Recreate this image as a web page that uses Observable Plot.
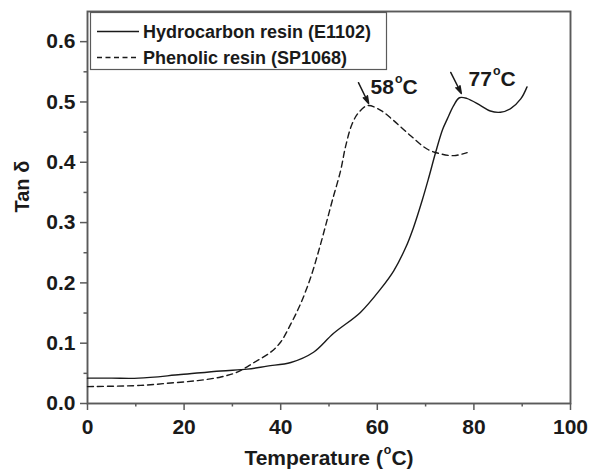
<!DOCTYPE html>
<html>
<head>
<meta charset="utf-8">
<script src="https://cdn.jsdelivr.net/npm/d3@7"></script>
<script src="https://cdn.jsdelivr.net/npm/@observablehq/plot@0.6"></script>
<style>
  body { margin: 0; background: #fff; }
  #chart svg { display: block; }
</style>
</head>
<body>
<div id="chart"></div>
<script>
// Series names (legend order)
const seriesNames = ["Hydrocarbon resin (E1102)", "Phenolic resin (SP1068)"];

// Hydrocarbon resin (E1102): temperature (°C) and tan δ
const hcTemp = [0, 5, 10.6, 19.3, 27.6, 33.1, 37.2, 42.1, 46.8, 50.9, 56.5, 60.7, 63.4, 65.9, 67.5, 69.3, 70.6, 72.1, 73.5, 74.5, 75.8, 77, 78.5, 81.4, 83.4, 85.5, 87.6, 89.7, 91.0];
const hcTan  = [0.042, 0.042, 0.042, 0.048, 0.054, 0.057, 0.062, 0.068, 0.085, 0.116, 0.151, 0.19, 0.22, 0.259, 0.292, 0.337, 0.373, 0.417, 0.454, 0.472, 0.494, 0.507, 0.506, 0.494, 0.485, 0.483, 0.489, 0.505, 0.525];

// Phenolic resin (SP1068): temperature (°C) and tan δ
const phTemp = [0, 11, 17.2, 22.8, 27.6, 31, 34.5, 37.9, 40, 42.1, 44.1, 46.2, 47.9, 49.3, 50.7, 52.4, 53.4, 54.8, 56.2, 58, 60.7, 63.4, 66.9, 70.3, 73.1, 75.9, 78.6];
const phTan  = [0.028, 0.030, 0.034, 0.038, 0.044, 0.052, 0.068, 0.085, 0.102, 0.132, 0.165, 0.209, 0.254, 0.295, 0.337, 0.386, 0.425, 0.464, 0.483, 0.494, 0.486, 0.469, 0.444, 0.422, 0.414, 0.411, 0.416];

// Axis ticks
const xTicks = [0, 20, 40, 60, 80, 100];
const xMinor = [10, 30, 50, 70, 90];
const yTicks = [0, 0.1, 0.2, 0.3, 0.4, 0.5, 0.6];
const yMinor = [0.05, 0.15, 0.25, 0.35, 0.45, 0.55];

// Peak annotations: label text, arrow start/end, label anchor
const peakLabel = ["58°C", "77°C"];
const arrowX1 = [56.1, 75.2];
const arrowY1 = [0.532, 0.549];
const arrowX2 = [58.2, 77.4];
const arrowY2 = [0.4975, 0.514];
const labelX = [58.6, 78.9];
const labelY = [0.514, 0.527];

const xLabel = "Temperature (°C)";
const yLabel = "Tan δ";

const hc = hcTemp.map((t, i) => ({t, v: hcTan[i]}));
const ph = phTemp.map((t, i) => ({t, v: phTan[i]}));
const peaks = peakLabel.map((text, i) => ({
  text, x1: arrowX1[i], y1: arrowY1[i], x2: arrowX2[i], y2: arrowY2[i], lx: labelX[i], ly: labelY[i]
}));

const FONT = "'Liberation Sans', Arial, sans-serif";
const AXIS = "#5a5a5a";
const INK = "#1a1a1a";

const chart = Plot.plot({
  width: 590,
  height: 472,
  marginLeft: 87,
  marginRight: 20,
  marginTop: 11,
  marginBottom: 69,
  style: {fontFamily: FONT, fontWeight: "bold", fontSize: "21px", background: "#fff", color: INK},
  x: {domain: [0, 100], label: null},
  y: {domain: [0, 0.65], label: null},
  marks: [
    Plot.axisX({ticks: xTicks, tickSize: 7, tickPadding: 9, stroke: AXIS, strokeWidth: 1.5, fill: INK, fontSize: 21, fontWeight: "bold", tickFormat: d3.format("d")}),
    Plot.axisX({ticks: xMinor, tickSize: 3.5, stroke: AXIS, strokeWidth: 1.5, tickFormat: () => ""}),
    Plot.axisY({ticks: yTicks, tickSize: 7, tickPadding: 5, stroke: AXIS, strokeWidth: 1.5, fill: INK, fontSize: 21, fontWeight: "bold", tickFormat: d3.format(".1f")}),
    Plot.axisY({ticks: yMinor, tickSize: 3.5, stroke: AXIS, strokeWidth: 1.5, tickFormat: () => ""}),
    Plot.frame({stroke: AXIS, strokeWidth: 1.9}),
    Plot.line(hc, {x: "t", y: "v", stroke: INK, strokeWidth: 1.4, curve: "catmull-rom"}),
    Plot.line(ph, {x: "t", y: "v", stroke: INK, strokeWidth: 1.4, strokeDasharray: "6,4", curve: "catmull-rom"}),
    Plot.arrow(peaks, {x1: "x1", y1: "y1", x2: "x2", y2: "y2", stroke: INK, strokeWidth: 1.5, headLength: 10, headAngle: 34}),
    Plot.text(peaks, {x: "lx", y: "ly", text: "text", textAnchor: "start", lineAnchor: "bottom", fontSize: 21, fontWeight: "bold", fill: INK}),
    Plot.text([xLabel], {frameAnchor: "bottom", dy: 61, lineAnchor: "bottom", fontSize: 21, fontWeight: "bold", fill: INK}),
    Plot.text([yLabel], {frameAnchor: "left", dx: -65, dy: 5, rotate: -90, fontSize: 20, fontWeight: "bold", fill: INK})
  ]
});

document.getElementById("chart").appendChild(chart);

const svg = d3.select(chart);

// Filled arrowheads
svg.selectAll("g[aria-label='arrow'] path").attr("fill", INK).attr("stroke-linejoin", "miter");

// Render "°" as a raised small letter o, as in the "°C" units
svg.selectAll("text").each(function () {
  const el = this;
  const s = el.textContent;
  if (!s.includes("°")) return;
  const [before, after] = s.split("°");
  const size = parseFloat(el.getAttribute("font-size") || 20);
  el.textContent = before;
  const sel = d3.select(el);
  const up = size * 0.52;
  sel.append("tspan").attr("font-size", size * 0.62).attr("dy", -up).attr("dx", 1).text("o");
  sel.append("tspan").attr("dy", up).text(after);
});

// Legend box with line samples
const legend = svg.append("g")
  .attr("font-family", FONT).attr("font-weight", "bold").attr("font-size", 18)
  .attr("fill", INK).attr("text-anchor", "start");
legend.append("rect").attr("x", 90.5).attr("y", 12.5).attr("width", 296).attr("height", 57)
  .attr("fill", "#fff").attr("stroke", AXIS).attr("stroke-width", 1.2);
const rows = [{y: 31.5, dash: null}, {y: 57.5, dash: "5,3.5"}];
seriesNames.forEach((name, i) => {
  const r = rows[i];
  legend.append("line").attr("x1", 97).attr("x2", 139).attr("y1", r.y).attr("y2", r.y)
    .attr("stroke", INK).attr("stroke-width", 1.3).attr("stroke-dasharray", r.dash);
  legend.append("text").attr("x", 143).attr("y", r.y + 6.3).text(name);
});
</script>
</body>
</html>
